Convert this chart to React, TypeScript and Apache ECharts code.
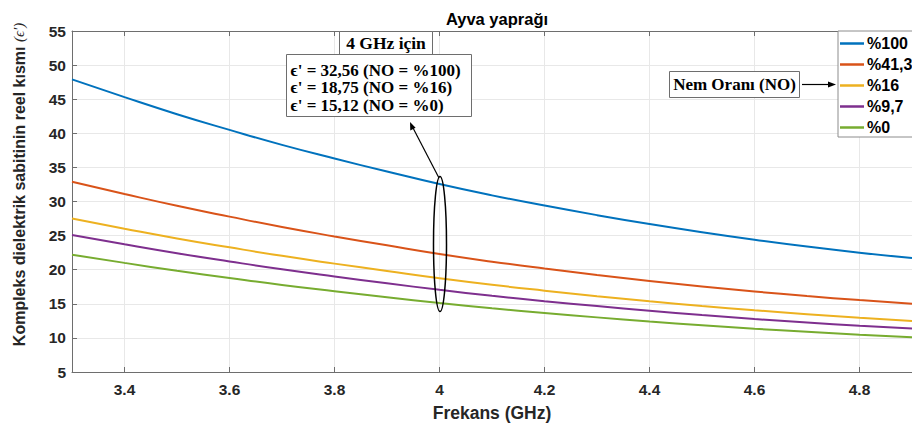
import React, { useEffect, useRef } from "react";
import * as echarts from "echarts";

const freqs = [3.3, 3.4, 3.5, 3.6, 3.7, 3.8, 3.9, 4.0, 4.1, 4.2, 4.3, 4.4, 4.5, 4.6, 4.7, 4.8, 4.9];
const no100 = [47.9, 45.3, 42.8, 40.5, 38.3, 36.3, 34.4, 32.56, 30.9, 29.4, 28.0, 26.7, 25.5, 24.4, 23.4, 22.5, 21.7];
const no41 = [32.9, 31.1, 29.37, 27.78, 26.26, 24.88, 23.57, 22.3, 21.18, 20.17, 19.23, 18.36, 17.55, 16.81, 16.14, 15.54, 15.0];
const no16 = [27.5, 26.02, 24.59, 23.28, 22.03, 20.89, 19.81, 18.75, 17.79, 16.93, 16.12, 15.37, 14.68, 14.05, 13.47, 12.95, 12.49];
const no97 = [25.1, 23.73, 22.42, 21.21, 20.06, 19.01, 18.01, 17.05, 16.18, 15.39, 14.66, 13.98, 13.35, 12.77, 12.25, 11.78, 11.36];
const no0 = [22.2, 21.0, 19.85, 18.79, 17.77, 16.85, 15.97, 15.12, 14.35, 13.66, 13.01, 12.41, 11.86, 11.35, 10.89, 10.47, 10.1];

const seriesNames = ["%100", "%41,3", "%16", "%9,7", "%0"];
const seriesValues = [no100, no41, no16, no97, no0];
const colors = ["#0072BD", "#D95319", "#EDB120", "#7E2F8E", "#77AC30"];
const xTicks = [3.4, 3.6, 3.8, 4, 4.2, 4.4, 4.6, 4.8];

const titleText = "Ayva yaprağı";
const xName = "Frekans (GHz)";
const yNameMain = "Kompleks dielektrik sabitinin reel kısmı ";
const yNameEps = "(ϵ')";
const boxTitle = "4 GHz için";
const boxLines = ["ϵ' = 32,56 (NO = %100)", "ϵ' = 18,75 (NO = %16)", "ϵ' = 15,12 (NO = %0)"];
const legendNote = "Nem Oranı (NO)";

const SANS = "'Liberation Sans', Arial, Helvetica, sans-serif";
const SERIF = "'Liberation Serif', 'Times New Roman', serif";

export default function App() {
  const ref = useRef<HTMLDivElement>(null);
  useEffect(() => {
    document.body.style.margin = "0";
    if (!ref.current) return;
    const chart = echarts.init(ref.current, undefined, { renderer: "svg" });
    const axisColor = "#6e6e6e";
    const tickLabel = { fontFamily: SANS, fontWeight: "bold" as const, fontSize: 15.5, color: "#262626" };
    chart.setOption({
      animation: false,
      backgroundColor: "#ffffff",
      title: {
        text: titleText,
        left: 492,
        textAlign: "center",
        top: 5,
        textStyle: { fontFamily: SANS, fontWeight: "bold", fontSize: 16.5, color: "#000" },
      },
      grid: { left: 72, top: 31, right: -3, bottom: 60, show: false },
      legend: {
        orient: "vertical",
        left: 838,
        top: 31,
        data: seriesNames,
        icon: "rect",
        itemWidth: 24,
        itemHeight: 2.5,
        itemGap: 4,
        padding: [4, 40, 1, 2],
        backgroundColor: "#ffffff",
        borderColor: "#8c8c8c",
        borderWidth: 1,
        borderRadius: 0,
        textStyle: { fontFamily: SANS, fontWeight: "bold", fontSize: 16, color: "#000", lineHeight: 17, padding: [0, 0, 0, -2] },
      },
      xAxis: [
        {
          type: "value",
          min: 3.3,
          max: 4.9,
          name: xName,
          nameLocation: "middle",
          nameGap: 32,
          nameTextStyle: { fontFamily: SANS, fontWeight: "bold", fontSize: 17.5, color: "#262626" },
          axisLine: { show: true, lineStyle: { color: axisColor, width: 1 } },
          axisTick: { show: true, inside: true, length: 5, customValues: xTicks, lineStyle: { color: axisColor } },
          axisLabel: { ...tickLabel, margin: 9, customValues: xTicks, formatter: (v: number) => String(+v.toFixed(1)) },
          splitLine: { show: true, lineStyle: { color: "#e8e8e8", width: 1 } },
        },
        {
          type: "value",
          min: 3.3,
          max: 4.9,
          position: "top",
          axisLine: { show: true, lineStyle: { color: axisColor, width: 1 } },
          axisTick: { show: true, inside: true, length: 5, customValues: xTicks, lineStyle: { color: axisColor } },
          axisLabel: { show: false },
          splitLine: { show: false },
        },
      ],
      yAxis: {
        type: "value",
        min: 5,
        max: 55,
        interval: 5,
        name: "{b|" + yNameMain + "}{e|" + yNameEps + "}",
        nameLocation: "middle",
        nameGap: 45,
        nameTextStyle: {
          padding: [0, 0, 0, 34],
          rich: {
            b: { fontFamily: SANS, fontWeight: "bold", fontSize: 16, color: "#262626" },
            e: { fontFamily: SERIF, fontStyle: "italic", fontSize: 15, color: "#262626" },
          },
        },
        axisLine: { show: true, lineStyle: { color: axisColor, width: 1 } },
        axisTick: { show: true, inside: true, length: 5, lineStyle: { color: axisColor } },
        axisLabel: { ...tickLabel, margin: 6 },
        splitLine: { show: true, lineStyle: { color: "#e8e8e8", width: 1 } },
      },
      series: seriesNames.map((name, i) => ({
        name,
        type: "line",
        xAxisIndex: 0,
        data: freqs.map((f, j) => [f, seriesValues[i][j]]),
        smooth: 0.5,
        showSymbol: false,
        symbol: "none",
        lineStyle: { color: colors[i], width: 2 },
        itemStyle: { color: colors[i] },
        z: 3,
      })),
      graphic: [
        {
          type: "rect",
          shape: { x: 339.5, y: 31.5, width: 93, height: 23 },
          style: { fill: "#fff", stroke: "#6e6e6e", lineWidth: 1 },
          z: 10,
        },
        {
          type: "text",
          x: 386,
          y: 43,
          style: { text: boxTitle, font: "bold 17.5px " + SERIF, fill: "#000", textAlign: "center", textVerticalAlign: "middle" },
          z: 11,
        },
        {
          type: "rect",
          shape: { x: 286.5, y: 54.5, width: 185, height: 62 },
          style: { fill: "#fff", stroke: "#6e6e6e", lineWidth: 1 },
          z: 10,
        },
        ...boxLines.map((t, i) => ({
          type: "text",
          x: 290.5,
          y: 70 + i * 17.5,
          style: { text: t, font: "bold 17px " + SERIF, fill: "#000", textAlign: "left", textVerticalAlign: "middle" },
          z: 11,
        })),
        {
          type: "ellipse",
          shape: { cx: 440, cy: 244, rx: 6.5, ry: 67.5 },
          style: { fill: "none", stroke: "#000", lineWidth: 1.5 },
          z: 10,
        },
        {
          type: "line",
          shape: { x1: 439, y1: 178, x2: 412, y2: 126 },
          style: { stroke: "#000", lineWidth: 1.2 },
          z: 10,
        },
        {
          type: "polygon",
          shape: { points: [[410, 122], [410.3, 130.5], [415.6, 127.7]] },
          style: { fill: "#000" },
          z: 10,
        },
        {
          type: "rect",
          shape: { x: 669.5, y: 71.5, width: 130, height: 26 },
          style: { fill: "#fff", stroke: "#6e6e6e", lineWidth: 1 },
          z: 10,
        },
        {
          type: "text",
          x: 734.5,
          y: 84.5,
          style: { text: legendNote, font: "bold 17px " + SERIF, fill: "#000", textAlign: "center", textVerticalAlign: "middle" },
          z: 11,
        },
        {
          type: "line",
          shape: { x1: 802, y1: 84.5, x2: 830, y2: 84.5 },
          style: { stroke: "#000", lineWidth: 1.2 },
          z: 10,
        },
        {
          type: "polygon",
          shape: { points: [[836, 84.5], [828, 81.5], [828, 87.5]] },
          style: { fill: "#000" },
          z: 10,
        },
      ],
    });
    return () => chart.dispose();
  }, []);
  return <div ref={ref} style={{ width: 912, height: 432 }} />;
}
